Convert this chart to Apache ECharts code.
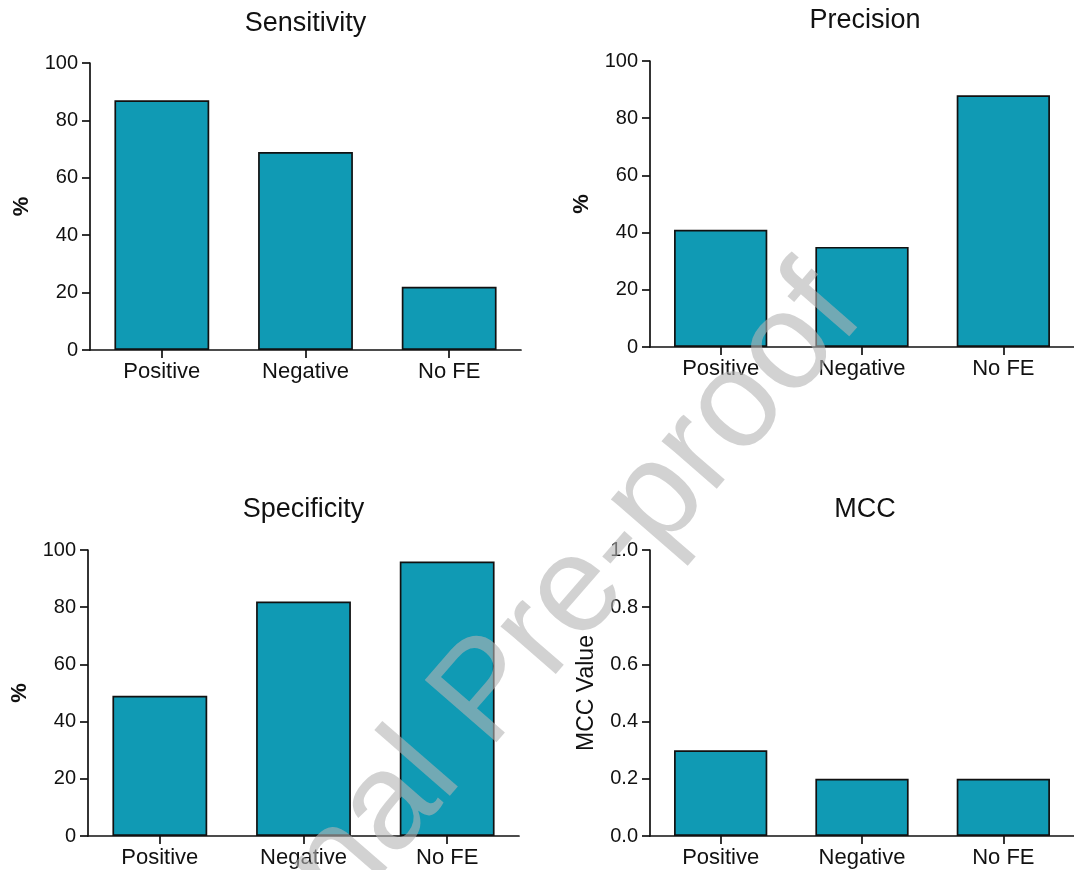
<!DOCTYPE html>
<html>
<head>
<meta charset="utf-8">
<script src="https://cdn.jsdelivr.net/npm/echarts@6/dist/echarts.min.js"></script>
<style>
html,body{margin:0;padding:0;background:#fff;}
#chart{width:1074px;height:870px;}
</style>
</head>
<body>
<div id="chart"></div>
<script>
const categories = ['Positive', 'Negative', 'No FE'];
const sensitivity = [87, 69, 22];
const precision = [41, 35, 88];
const specificity = [49, 82, 96];
const mcc = [0.30, 0.20, 0.20];
const panelTitles = ['Sensitivity', 'Precision', 'Specificity', 'MCC'];
const yNames = ['%', '%', '%', 'MCC Value'];
const watermarkText = 'Journal Pre-proof';

const FONT = 'Liberation Sans, Arial, sans-serif';
const INK = '#111111';
const BAR = '#109AB4';

const grids = [
  {left: 90, top: 63, width: 431, height: 287},
  {left: 650, top: 61, width: 430, height: 286},
  {left: 88, top: 550, width: 431, height: 286},
  {left: 650, top: 550, width: 430, height: 286}
];
const titleTops = [10, 7, 496, 496];
const seriesData = [sensitivity, precision, specificity, mcc];

const chart = echarts.init(document.getElementById('chart'), null, {renderer: 'canvas'});

const option = {
  animation: false,
  backgroundColor: '#ffffff',
  title: grids.map((g, i) => ({
    text: panelTitles[i],
    left: g.left + g.width / 2,
    top: titleTops[i],
    textAlign: 'center',
    padding: 0,
    textStyle: {fontFamily: FONT, fontSize: 27, fontWeight: 'normal', color: INK}
  })),
  grid: grids.map(g => Object.assign({containLabel: false}, g)),
  xAxis: grids.map((g, i) => ({
    type: 'category',
    gridIndex: i,
    data: categories,
    boundaryGap: true,
    axisLine: {show: true, lineStyle: {color: INK, width: 1.7}},
    axisTick: {show: true, alignWithLabel: true, length: 8, lineStyle: {color: INK, width: 1.7}},
    axisLabel: {fontFamily: FONT, fontSize: 22, color: INK, margin: 11},
    splitLine: {show: false}
  })),
  yAxis: grids.map((g, i) => {
    const isMcc = i === 3;
    return {
      type: 'value',
      gridIndex: i,
      min: 0,
      max: isMcc ? 1 : 100,
      interval: isMcc ? 0.2 : 20,
      name: yNames[i],
      nameLocation: 'middle',
      nameGap: isMcc ? 52 : 57,
      nameTextStyle: {
        fontFamily: FONT,
        fontSize: isMcc ? 23 : 22,
        fontWeight: isMcc ? 'normal' : 'bold',
        color: INK
      },
      axisLine: {show: true, lineStyle: {color: INK, width: 1.7}},
      axisTick: {show: true, length: 8, lineStyle: {color: INK, width: 1.7}},
      axisLabel: {
        fontFamily: FONT, fontSize: 20, color: INK, margin: 12,
        formatter: v => isMcc ? v.toFixed(1) : String(v)
      },
      splitLine: {show: false}
    };
  }),
  series: seriesData.map((d, i) => ({
    type: 'bar',
    xAxisIndex: i,
    yAxisIndex: i,
    data: d,
    barWidth: '66%',
    itemStyle: {color: BAR, borderColor: INK, borderWidth: 1.7}
  })),
  graphic: {
    elements: [{
      type: 'text',
      x: 488,
      y: 694,
      rotation: 49 * Math.PI / 180,
      z: 100,
      silent: true,
      style: {
        text: watermarkText,
        fontFamily: FONT,
        fontSize: 138,
        fill: 'rgba(180,180,180,0.6)',
        align: 'center',
        verticalAlign: 'middle'
      }
    }]
  }
};

chart.setOption(option);
</script>
</body>
</html>
